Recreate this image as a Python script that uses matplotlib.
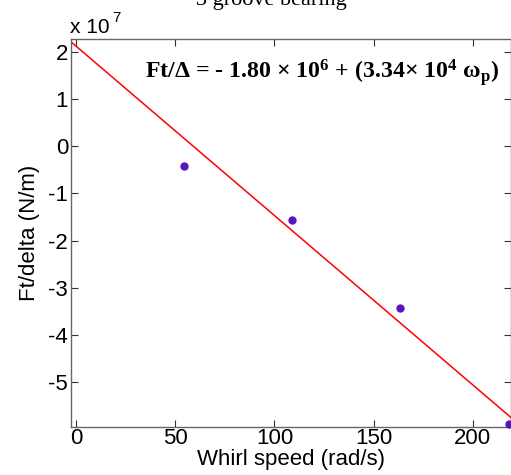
import matplotlib
matplotlib.use("Agg")
import matplotlib.pyplot as plt
import numpy as np

# Data
whirl_speed = [54.5, 109.0, 163.5, 218.0]           # rad/s
ft_delta = [-0.42e7, -1.57e7, -3.43e7, -5.89e7]     # N/m
fit_intercept = 2.12e7
fit_slope = -3.59e5
fit_x_range = [-2.5, 220.0]

x_ticks = [0, 50, 100, 150, 200]
y_ticks = [-5, -4, -3, -2, -1, 0, 1, 2]

plt.rcParams['font.family'] = ['Liberation Sans', 'DejaVu Sans']
plt.rcParams['mathtext.fontset'] = 'custom'
plt.rcParams['mathtext.rm'] = 'Liberation Serif:bold'
plt.rcParams['mathtext.it'] = 'Liberation Serif:bold'
plt.rcParams['mathtext.bf'] = 'Liberation Serif:bold'

fig = plt.figure(figsize=(5.11, 4.75), dpi=100)
ax = fig.add_axes([71/511, 1-427/475, (511-71)/511, (427-39)/475])

fx = np.array(fit_x_range)
ax.plot(fx, fit_intercept + fit_slope*fx, color='#ff0000', lw=1.1, zorder=2)
ax.plot(whirl_speed, ft_delta, 'o', color='#5a14be', ms=5.0, mec='#5a14be', zorder=3, clip_on=False)

ax.set_xlim(-2.5, 219.2)
ax.set_ylim(-5.95e7, 2.27e7)
ax.set_xticks(x_ticks)
ax.set_yticks([v*1e7 for v in y_ticks])
ax.set_yticklabels([str(v) for v in y_ticks])
ax.tick_params(direction='in', length=5, width=0.8, top=True, right=True,
               labelsize=16, color='#333333')
ax.tick_params(axis='x', pad=1)
ax.tick_params(axis='y', pad=2)
for s in ax.spines.values():
    s.set_color('#666666')
    s.set_linewidth(1.0)

ax.set_xlabel('Whirl speed (rad/s)', fontsize=16, labelpad=0)
ax.set_ylabel('Ft/delta (N/m)', fontsize=16, labelpad=6)

fig.text(70/511, 1-33/475, 'x 10', fontsize=15, va='baseline', ha='left',
         family='Liberation Sans')
fig.text(112/511, 1-22/475, '7', fontsize=11, va='baseline', ha='left',
         family='Liberation Sans')

fig.text(145/511, 1-78/475,
        'Ft/\u0394 = - 1.80 \u00d7 10$^{\\mathregular{6}}$ + (3.34\u00d7 10$^{\\mathregular{4}}$ \u03c9$_{\\mathregular{p}}$)',
        fontsize=17.2, va='baseline', ha='left',
        family='Liberation Serif', weight='bold')

fig.text(271/511, 1-5/475, '3 groove bearing', fontsize=16, va='baseline', ha='center',
         family='Liberation Serif')

fig.savefig('out.png', dpi=100)
